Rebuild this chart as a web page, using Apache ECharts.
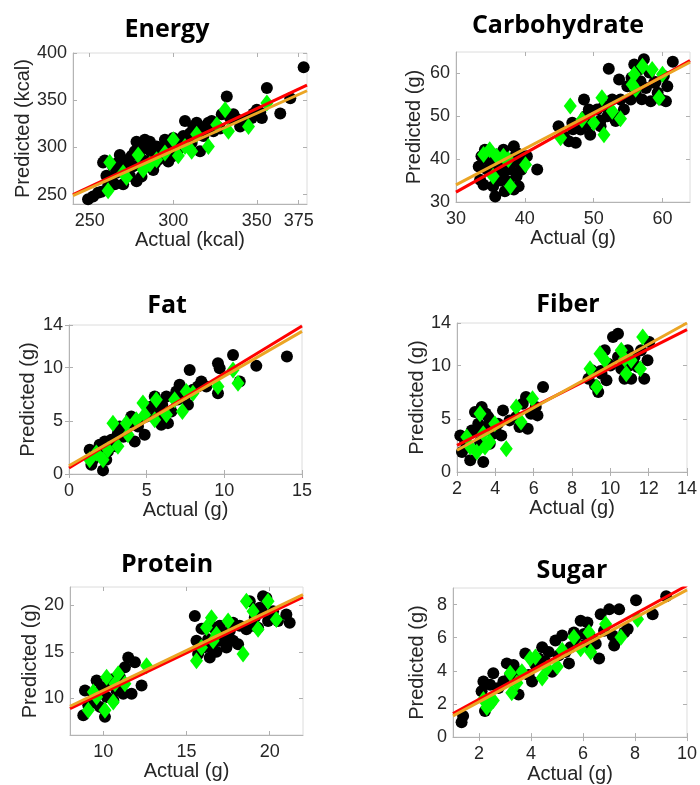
<!DOCTYPE html>
<html>
<head>
<meta charset="utf-8">
<script src="https://cdn.jsdelivr.net/npm/echarts@6/dist/echarts.min.js"></script>
<style>html,body{margin:0;padding:0;background:#fff}#c{width:700px;height:785px}</style>
</head>
<body>
<div id="c"></div>
<script>
// ---------- Energy ----------
const energyTrain = [[249,245],[252,248],[255,252],[257,253],[258,284],[259,286],[261,259],[263,266],[265,261],[266,273],[268,292],[270,261],[271,276],[273,287],[275,291],[278,306],[278,264],[281,269],[283,308],[284,299],[285,280],[287,294],[288,276],[290,301],[291,287],[293,291],[295,308],[297,285],[298,303],[300,310],[300,298],[302,305],[304,308],[307,328],[308,305],[310,315],[312,322],[314,326],[316,296],[317,315],[319,322],[321,326],[324,317],[326,322],[329,335],[332,354],[334,331],[336,335],[340,322],[344,329],[348,336],[350,340],[353,331],[356,363],[364,336],[370,352],[378,385],[262,268],[276,280],[292,298],[296,302],[280,290],[260,270],[264,280],[267,284],[272,282],[274,270],[277,296],[280,300],[282,286],[286,306],[289,283],[294,297],[299,290],[303,298],[306,312],[311,305],[313,318],[318,312],[323,328],[328,320],[338,330],[347,331],[352,337]];
const energyTest = [[262,284],[261,254],[270,273],[272,268],[279,292],[282,276],[286,282],[290,287],[295,294],[300,308],[303,291],[307,301],[311,296],[314,314],[321,301],[326,324],[331,340],[333,317],[345,322],[356,347]];
const energyRed = [[240,250],[380,366]];
const energyOrange = [[240,249],[380,360]];
const energyXTicks = [250,300,350,375];
const energyYTicks = [250,300,350,400];

// ---------- Carbohydrate ----------
const carbTrain = [[33.3,38.3],[33.7,40.7],[33.5,35.2],[34.2,42.2],[34.5,37.6],[35.0,39.9],[35.4,33.7],[35.7,31.3],[35.9,41.1],[36.2,36.8],[36.7,38.3],[36.9,42.2],[37.4,39.9],[37.6,34.8],[37.9,37.6],[38.4,43.0],[38.6,40.7],[38.8,36.0],[39.1,33.7],[39.3,39.1],[39.8,40.7],[40.3,40.7],[41.8,37.6],[34.0,34.0],[37.1,32.5],[38.4,32.9],[34.5,40],[36,39.5],[37,37],[38,39],[39.5,37.5],[36.5,35],[35.5,38.5],[38.8,41.5],[44.9,47.7],[45.7,45.3],[46.4,44.2],[46.9,48.5],[47.4,43.8],[48.1,46.9],[48.6,53.9],[48.8,50.0],[49.3,51.6],[49.5,45.7],[50.0,48.5],[50.5,51.6],[51.0,47.7],[51.5,52.4],[52.0,50.0],[52.2,61.1],[52.7,53.9],[53.2,48.9],[53.7,58.6],[53.9,53.9],[54.4,51.6],[47,47],[49,48],[51,49],[53,50],[54.9,57.0],[55.4,53.9],[55.9,62.1],[56.1,55.5],[56.6,60.9],[56.8,58.2],[57.3,63.3],[57.6,56.6],[58.1,60.2],[58.3,53.5],[58.8,57.8],[59.3,55.5],[59.8,53.9],[60.2,59.4],[60.7,57.0],[61.5,62.7],[60.5,53.5],[57,54],[59,58],[55.5,59]];
const carbTest = [[34.0,41.1],[34.9,42.2],[35.4,36.0],[35.9,40.7],[36.9,40.7],[37.6,39.9],[37.9,33.7],[40.1,38.7],[45.2,45.0],[46.6,52.4],[48.3,49.2],[50.0,48.5],[51.2,54.3],[51.5,45.7],[52.7,51.2],[53.9,49.4],[55.6,57.4],[55.9,59.8],[56.1,56.3],[57.1,61.7],[58.5,60.9],[60.0,59.8],[59.5,54.3]];
const carbRed = [[30,32.3],[64,63.0]];
const carbOrange = [[30,34.0],[64,62.6]];
const carbXTicks = [30,40,50,60];
const carbYTicks = [30,40,50,60];

// ---------- Fat ----------
const fatTrain = [[1.33,2.28],[1.44,0.88],[1.76,1.66],[1.97,2.75],[2.19,0.34],[2.30,3.06],[2.51,2.13],[2.73,3.22],[3.0,2.6],[3.15,3.84],[3.48,4.16],[3.80,4.78],[4.01,5.41],[4.23,3.06],[4.44,4.47],[4.87,3.69],[4.98,5.41],[5.3,6.34],[5.52,7.28],[5.73,5.09],[5.94,4.63],[6.27,7.28],[6.37,4.78],[6.59,5.88],[6.80,7.28],[7.12,8.38],[7.45,7.28],[7.66,6.5],[7.77,9.78],[7.98,7.91],[8.30,8.22],[8.52,8.69],[8.84,8.22],[9.59,7.59],[9.59,10.41],[9.70,9.94],[10.56,11.19],[10.99,8.69],[12.06,10.16],[14.03,11.03],[1.55,1.34],[2.40,1.34],[3.26,4.47],[5.62,5.72],[6.91,7.75],[5.94,6.66],[3.5,3.5],[4.5,5],[6,6.5],[7,7],[2.2,1.8]];
const fatTest = [[1.33,1.34],[1.76,1.97],[2.19,1.34],[2.51,2.28],[2.83,4.78],[3.15,2.6],[3.69,4.78],[3.80,3.69],[4.33,5.09],[4.76,6.66],[4.87,5.56],[5.52,5.09],[5.62,6.97],[6.27,5.56],[6.80,6.97],[7.30,5.88],[7.55,7.75],[7.98,7.59],[9.59,8.22],[10.56,9.78],[10.88,8.53]];
const fatRed = [[0,0.56],[15,13.9]];
const fatOrange = [[0,0.78],[15,13.4]];
const fatXTicks = [0,5,10,15];
const fatYTicks = [0,5,10,14];

// ---------- Fiber ----------
const fiberTrain = [[2.17,3.44],[2.26,1.88],[2.43,2.82],[2.69,1.10],[2.77,3.91],[2.94,5.64],[3.11,4.54],[3.2,2.82],[3.29,6.11],[3.37,0.94],[3.46,4.23],[3.63,5.17],[3.71,2.66],[3.89,3.60],[4.14,4.54],[4.31,3.44],[4.40,5.79],[4.74,4.85],[5.09,5.17],[5.26,4.23],[5.43,6.42],[5.60,7.05],[5.69,4.07],[5.86,5.48],[6.11,6.11],[6.2,5.32],[6.49,7.99],[3,4],[3.5,5.5],[4,4],[8.86,8.77],[9.03,9.55],[9.2,8.14],[9.37,7.52],[9.54,9.24],[9.71,11.43],[9.8,8.61],[9.89,10.18],[10.14,12.68],[10.4,13.0],[10.4,10.8],[10.57,9.71],[10.74,8.77],[10.91,11.43],[11.09,8.77],[11.26,10.8],[11.43,9.87],[11.6,11.43],[11.77,8.77],[11.94,10.49],[12.03,12.21],[10,10],[11,10],[9.5,9.5]];
const fiberTest = [[2.51,3.29],[2.69,2.35],[3.03,1.88],[3.2,5.48],[3.37,3.60],[3.46,2.35],[3.71,2.82],[3.97,4.54],[4.57,2.19],[5.09,6.11],[5.34,4.70],[5.94,6.89],[8.94,9.71],[9.29,7.99],[9.46,11.12],[9.71,10.49],[10.57,11.43],[10.74,10.65],[10.83,9.24],[11.09,10.49],[11.57,9.71],[11.69,12.68]];
const fiberRed = [[2,2.51],[14,13.37]];
const fiberOrange = [[2,2.04],[14,14.0]];
const fiberXTicks = [2,4,6,8,10,12,14];
const fiberYTicks = [0,5,10,14];

// ---------- Protein ----------
const protTrain = [[8.8,8.14],[8.9,10.82],[9.1,9.21],[9.4,10.46],[9.6,11.89],[9.8,9.04],[9.9,11.18],[10.1,7.96],[10.2,10.11],[10.4,11.54],[10.6,9.75],[10.8,10.82],[11.0,12.25],[11.2,10.46],[11.3,13.32],[11.5,14.39],[11.7,10.46],[11.9,13.86],[12.3,11.36],[10.5,12],[11,11],[9.5,9.5],[15.5,18.86],[15.6,16.18],[15.7,14.75],[15.9,17.5],[16.1,15.5],[16.3,16.36],[16.4,14.39],[16.6,17.61],[16.8,15.0],[17.0,16.18],[17.2,16.89],[17.4,15.46],[17.6,17.25],[17.8,16.18],[18.1,15.82],[17.8,18.14],[18.6,17.43],[18.8,20.46],[19.1,18.68],[19.4,19.75],[19.6,21.0],[19.8,20.82],[19.9,18.32],[20.2,19.39],[20.5,18.32],[21.0,19.04],[21.2,18.14],[19.3,17.6],[16,17.5],[16.5,15.5],[17,17.8],[17.5,16.5],[18.2,17.8],[19,17.8],[19.5,19.5]];
const protTest = [[9.1,8.68],[9.6,10.11],[9.4,10.64],[10.1,8.68],[10.2,12.25],[10.6,9.57],[10.7,11.54],[10.9,12.61],[11.3,11.54],[12.6,13.5],[15.6,14.04],[15.9,15.46],[16.2,17.61],[16.5,18.68],[16.6,16.18],[16.8,16.89],[17.5,18.32],[18.4,14.75],[18.6,20.46],[19.0,19.39],[19.3,17.43],[19.9,20.46],[20.4,18.5]];
const protRed = [[8,8.86],[22,20.89]];
const protOrange = [[8,9.11],[22,21.18]];
const protXTicks = [10,15,20];
const protYTicks = [10,15,20];

// ---------- Sugar ----------
const sugarTrain = [[1.33,0.89],[1.39,1.28],[2.1,2.77],[2.17,3.36],[2.23,1.58],[2.43,3.16],[2.55,3.85],[2.75,2.96],[2.94,3.36],[3.07,4.45],[3.2,3.75],[3.33,4.35],[3.52,2.57],[3.59,3.95],[3.78,5.04],[3.91,3.75],[4.04,3.36],[4.17,4.35],[4.3,4.74],[4.43,5.43],[4.55,4.55],[4.68,5.14],[4.81,3.95],[4.94,5.83],[5.07,4.94],[5.2,6.13],[5.33,5.14],[5.46,4.45],[5.52,5.43],[5.65,6.32],[5.78,5.63],[5.91,7.02],[6.04,6.23],[6.17,6.92],[6.36,5.93],[6.49,5.63],[6.62,4.74],[6.68,7.42],[6.81,6.42],[7.01,7.71],[7.14,6.13],[7.2,5.53],[7.39,7.71],[7.59,6.32],[7.72,6.52],[8.04,8.26],[8.68,7.41],[9.2,8.5],[6.04,5.53]];
const sugarTest = [[2.17,2.27],[2.3,1.78],[2.43,1.98],[2.55,2.21],[3.2,3.85],[3.26,2.67],[3.46,3.26],[3.65,3.95],[3.97,4.74],[4.17,4.84],[4.43,3.56],[4.62,4.15],[5.01,4.25],[5.2,5.24],[5.65,6.03],[5.91,5.34],[6.23,6.32],[6.3,5.14],[6.87,6.82],[7.46,6.03],[8.1,7.11]];
const sugarRed = [[1,1.42],[10,9.15]];
const sugarOrange = [[1,1.28],[10,8.89]];
const sugarXTicks = [2,4,6,8,10];
const sugarYTicks = [0,2,4,6,8];

const panels = [
  {title:'Energy', tx:167, ty:17, g:{left:73,top:53,width:234,height:151}, xr:[240,380], yr:[240,400], xt:energyXTicks, yt:energyYTicks, xn:'Actual (kcal)', yn:'Predicted (kcal)', yg:31, tr:energyTrain, te:energyTest, red:energyRed, org:energyOrange},
  {title:'Carbohydrate', tx:558, ty:13, g:{left:456,top:52,width:234,height:150}, xr:[30,64], yr:[30,65], xt:carbXTicks, yt:carbYTicks, xn:'Actual (g)', yn:'Predicted (g)', yg:32, tr:carbTrain, te:carbTest, red:carbRed, org:carbOrange},
  {title:'Fat', tx:167, ty:293, g:{left:69,top:325,width:233,height:149}, xr:[0,15], yr:[0,14], xt:fatXTicks, yt:fatYTicks, xn:'Actual (g)', yn:'Predicted (g)', yg:31, tr:fatTrain, te:fatTest, red:fatRed, org:fatOrange},
  {title:'Fiber', tx:568, ty:292, g:{left:457,top:323,width:233,height:149}, xr:[2,14], yr:[0,14], xt:fiberXTicks, yt:fiberYTicks, xn:'Actual (g)', yn:'Predicted (g)', yg:30, tr:fiberTrain, te:fiberTest, red:fiberRed, org:fiberOrange},
  {title:'Protein', tx:167, ty:552, g:{left:70,top:587,width:233,height:148}, xr:[8,22], yr:[6,22], xt:protXTicks, yt:protYTicks, xn:'Actual (g)', yn:'Predicted (g)', yg:29, tr:protTrain, te:protTest, red:protRed, org:protOrange},
  {title:'Sugar', tx:572, ty:558, g:{left:453,top:588,width:234,height:152}, xr:[1,10], yr:[0,9], xt:sugarXTicks, yt:sugarYTicks, xn:'Actual (g)', yn:'Predicted (g)', yg:26, tr:sugarTrain, te:sugarTest, red:sugarRed, org:sugarOrange}
];

const txtColor = '#262626';
const fontFam = 'Liberation Sans, Arial, sans-serif';
const option = {animation:false, backgroundColor:'#fff', title:[], grid:[], xAxis:[], yAxis:[], series:[]};

panels.forEach((p, i) => {
  option.title.push({text:p.title, left:p.tx, top:p.ty, textAlign:'center', padding:0,
    textStyle:{fontFamily:'Open Sans, Noto Sans, sans-serif', fontWeight:'bold', fontSize:25, color:'#000'}});
  option.grid.push(Object.assign({show:true, borderColor:'#dcdcdc', borderWidth:1, containLabel:false}, p.g));
  const tickStyle = {show:true, inside:true, length:4, lineStyle:{color:'#b0b0b0'}};
  option.xAxis.push({type:'value', gridIndex:i, position:'bottom', min:p.xr[0], max:p.xr[1],
    name:p.xn, nameLocation:'middle', nameGap:22, nameTextStyle:{fontFamily:fontFam, fontSize:20, color:txtColor},
    axisLine:{show:true, onZero:false, lineStyle:{color:'#b4b4b4'}},
    axisTick:Object.assign({customValues:p.xt}, tickStyle),
    axisLabel:{customValues:p.xt, fontFamily:fontFam, fontSize:18, color:txtColor, margin:8, showMinLabel:true, showMaxLabel:true},
    splitLine:{show:false}});
  option.xAxis.push({type:'value', gridIndex:i, position:'top', min:p.xr[0], max:p.xr[1],
    axisLine:{show:false}, axisTick:Object.assign({customValues:p.xt}, tickStyle),
    axisLabel:{show:false}, splitLine:{show:false}});
  option.yAxis.push({type:'value', gridIndex:i, position:'left', min:p.yr[0], max:p.yr[1],
    name:p.yn, nameLocation:'middle', nameGap:p.yg, nameTextStyle:{fontFamily:fontFam, fontSize:20, color:txtColor},
    axisLine:{show:true, onZero:false, lineStyle:{color:'#b4b4b4'}},
    axisTick:Object.assign({customValues:p.yt}, tickStyle),
    axisLabel:{customValues:p.yt, fontFamily:fontFam, fontSize:18, color:txtColor, margin:6, showMinLabel:true, showMaxLabel:true},
    splitLine:{show:false}});
  option.yAxis.push({type:'value', gridIndex:i, position:'right', min:p.yr[0], max:p.yr[1],
    axisLine:{show:false}, axisTick:Object.assign({customValues:p.yt}, tickStyle),
    axisLabel:{show:false}, splitLine:{show:false}});
  const xi = i*2, yi = i*2;
  option.series.push({type:'scatter', xAxisIndex:xi, yAxisIndex:yi, data:p.tr, symbol:'circle', symbolSize:12,
    itemStyle:{color:'#000', opacity:1}, z:2});
  option.series.push({type:'scatter', xAxisIndex:xi, yAxisIndex:yi, data:p.te, symbol:'diamond', symbolSize:[13,17],
    itemStyle:{color:'#00ff00', opacity:1}, z:3});
  option.series.push({type:'line', xAxisIndex:xi, yAxisIndex:yi, data:p.red, symbol:'none', clip:true,
    lineStyle:{color:'#ff0000', width:3}, z:4});
  option.series.push({type:'line', xAxisIndex:xi, yAxisIndex:yi, data:p.org, symbol:'none', clip:true,
    lineStyle:{color:'#eba524', width:3}, z:5});
});

const chart = echarts.init(document.getElementById('c'), null, {renderer:'canvas'});
chart.setOption(option);
</script>
</body>
</html>
